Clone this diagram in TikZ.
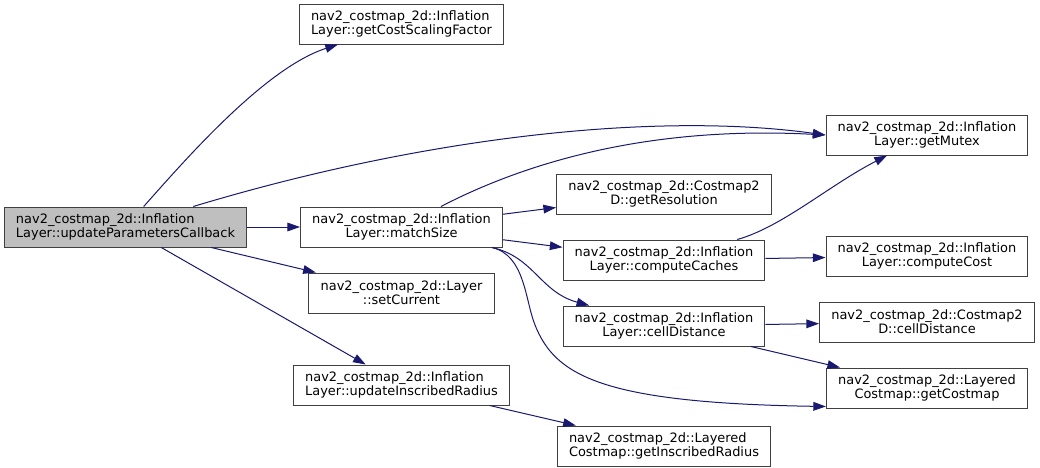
\documentclass[tikz,border=0pt]{standalone}
\usepackage{fontspec}
\setmainfont{DejaVu Sans}
\usetikzlibrary{arrows.meta,positioning}
\definecolor{midnight}{HTML}{191970}

\begin{document}
\begin{tikzpicture}[
      x=0.75pt, y=-0.75pt,
      fnbox/.style={
         rectangle,
         draw=black!75,
         fill=white,
         line width=0.75pt,
         inner xsep=8.8pt,
         inner ysep=0pt,
         minimum height=30pt,
         align=center,
         font=\fontsize{9.7}{10.5}\selectfont},
      rootbox/.style={fnbox, fill=black!25, align=left},
      call/.style={-{Triangle[length=9.5pt,width=6.5pt]}, draw=midnight, line width=0.75pt},
      node distance=18.75pt
      ]
      \useasboundingbox (0,0) rectangle (1040,468);

      \node[rootbox] (upc) at (125.5,227) {nav2\_costmap\_2d::Inflation\\Layer::updateParametersCallback};
      \node[fnbox] (msz) at (401.5,227) {nav2\_costmap\_2d::Inflation\\Layer::matchSize};
      \node[fnbox,align=left,above=121.5pt of msz] (csf) {nav2\_costmap\_2d::Inflation\\Layer::getCostScalingFactor};
      \node[fnbox,below=of msz] (cur) {nav2\_costmap\_2d::Layer\\::setCurrent};
      \node[fnbox,align=left,below=38.25pt of cur] (uir) {nav2\_costmap\_2d::Inflation\\Layer::updateInscribedRadius};
      \node[fnbox] (res) at (664,194) {nav2\_costmap\_2d::Costmap2\\D::getResolution};
      \node[fnbox,below=of res] (cc) {nav2\_costmap\_2d::Inflation\\Layer::computeCaches};
      \node[fnbox,below=of cc] (cd) {nav2\_costmap\_2d::Inflation\\Layer::cellDistance};
      \node[fnbox,align=left,below=59.25pt of cd] (gir) {nav2\_costmap\_2d::Layered\\Costmap::getInscribedRadius};
      \node[fnbox] (mtx) at (927,135) {nav2\_costmap\_2d::Inflation\\Layer::getMutex};
      \node[fnbox,below=60pt of mtx] (cost) {nav2\_costmap\_2d::Inflation\\Layer::computeCost};
      \node[fnbox,below=of cost] (cd2) {nav2\_costmap\_2d::Costmap2\\D::cellDistance};
      \node[fnbox,below=of cd2] (gcm) {nav2\_costmap\_2d::Layered\\Costmap::getCostmap};

    \foreach \i/\j in {% caller/callee
      upc/msz, upc/cur, upc/uir,
      msz/res, msz/cc,
      cc/cost, cd/cd2, cd/gcm, uir/gir}
       \draw [call] (\i) -- (\j);

    % bent calls
    \draw [call] (upc) .. controls (185,160) and (265,68) .. (csf);
    \draw [call] (upc) .. controls (430,135) and (660,112) .. (mtx.west);
    \draw [call] (msz) .. controls (517,167) and (640,125) .. (mtx.west);
    \draw [call] (cc) .. controls (782,227) and (829.5,185) .. (mtx);
    \draw [call] (msz) .. controls (534,257) and (540,292) .. (cd);
    \draw [call] (msz) .. controls (525,255) and (525,300) .. (535,325)
                       .. controls (555,375) and (600,403) .. ([yshift=1.5pt]gcm.south west);

    \end{tikzpicture}
\end{document}
